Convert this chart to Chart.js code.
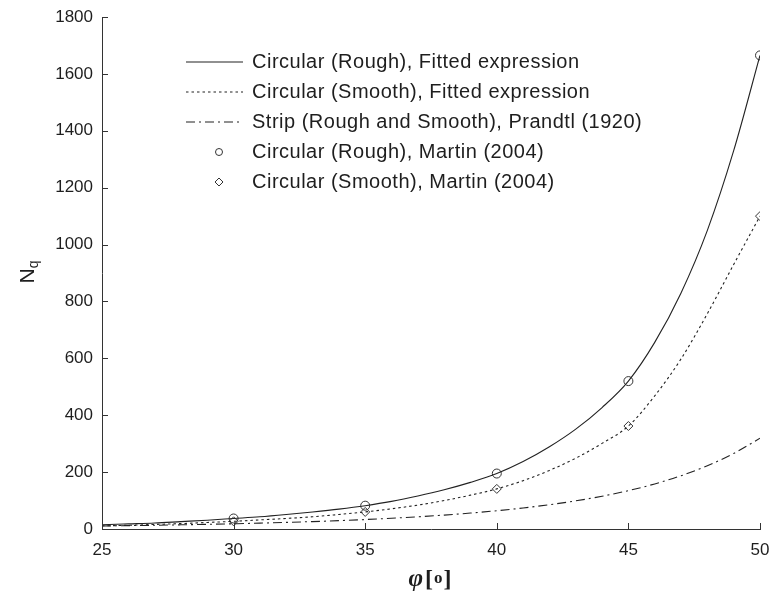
<!DOCTYPE html>
<html><head><meta charset="utf-8">
<script src="https://cdn.jsdelivr.net/npm/chart.js@4/dist/chart.umd.min.js"></script>
<style>html,body{margin:0;padding:0;background:#fff}#wrap{width:769px;height:594px}</style>
</head><body><div id="wrap"><canvas id="c" width="769" height="594"></canvas></div>
<script>
// friction angle (degrees) for fitted curves
const phi = [25,26,27,28,29,30,31,32,33,34,35,36,37,38,39,40,41,42,43,44,45,46,47,48,49,50];
// Circular (Rough), Fitted expression
const roughFit = [15,18,21,26,31,37,43,51,60,70,82,97,116,138,164,195,237,289,351,427,520,656,830,1050,1330,1665];
// Circular (Smooth), Fitted expression
const smoothFit = [11,13,16,19,23,27,32,37,43,51,60,71,84,100,119,141,170,206,249,301,362,468,598,757,930,1100];
// Strip (Rough and Smooth), Prandtl (1920)
const prandtl = [10.7,11.9,13.2,14.7,16.4,18.4,20.6,23.2,26.1,29.4,33.3,37.8,42.9,48.9,56.0,64.2,73.9,85.4,99.0,115.3,134.9,158.5,187.2,222.3,265.5,319.1];
// Martin (2004) points
const martinPhi = [30,35,40,45,50];
const martinRough = [37,82,195,520,1665];
const martinSmooth = [27,60,141,362,1100];
// axis ticks
const xTicks = [25,30,35,40,45,50];
const yTicks = [0,200,400,600,800,1000,1200,1400,1600,1800];
const seriesLabels = [
  'Circular (Rough), Fitted expression',
  'Circular (Smooth), Fitted expression',
  'Strip (Rough and Smooth), Prandtl (1920)',
  'Circular (Rough), Martin (2004)',
  'Circular (Smooth), Martin (2004)'
];

const pts = (xs, ys) => xs.map((x, i) => ({x: x, y: ys[i]}));
const INK = '#1e1e1e';
const FONT = '"Liberation Sans", Arial, sans-serif';

const decor = {
  id: 'decor',
  afterDraw(chart) {
    const ctx = chart.ctx;
    const xs = chart.scales.x, ys = chart.scales.y;
    const ca = chart.chartArea;
    ctx.save();
    // inward tick marks
    ctx.strokeStyle = '#333'; ctx.lineWidth = 1;
    ctx.beginPath();
    xTicks.forEach(v => { const px = Math.round(xs.getPixelForValue(v)) + 0.5; ctx.moveTo(px, ca.bottom); ctx.lineTo(px, ca.bottom - 6); });
    yTicks.forEach(v => { const py = Math.round(ys.getPixelForValue(v)) + 0.5; ctx.moveTo(ca.left, py); ctx.lineTo(ca.left + 6, py); });
    ctx.stroke();
    // legend
    const ds = chart.data.datasets;
    ctx.save();
    ctx.font = '20px ' + FONT; ctx.fillStyle = INK; ctx.textBaseline = 'middle'; ctx.textAlign = 'left';
    try { ctx.letterSpacing = '0.5px'; } catch (e) {}
    ds.forEach((d, i) => {
      const y = 62 + i * 30;
      if (d.showLine !== false) {
        ctx.save();
        ctx.strokeStyle = d.borderColor; ctx.lineWidth = d.borderWidth;
        ctx.setLineDash(d.borderDash || []);
        ctx.beginPath(); ctx.moveTo(186, y); ctx.lineTo(243, y); ctx.stroke();
        ctx.restore();
      } else {
        ctx.save(); ctx.strokeStyle = d.pointBorderColor; ctx.lineWidth = 1;
        ctx.beginPath();
        if (d.pointStyle === 'circle') { ctx.arc(219, y, 3.5, 0, Math.PI * 2); }
        else { ctx.moveTo(219, y - 4); ctx.lineTo(223, y); ctx.lineTo(219, y + 4); ctx.lineTo(215, y); ctx.closePath(); }
        ctx.stroke(); ctx.restore();
      }
      ctx.fillStyle = INK;
      ctx.fillText(d.label, 252, y);
    });
    ctx.restore();
    // y axis title N_q
    ctx.save();
    ctx.translate(26, 272);
    ctx.rotate(-Math.PI / 2);
    ctx.textBaseline = 'alphabetic'; ctx.textAlign = 'left'; ctx.fillStyle = INK;
    ctx.font = '21px ' + FONT;
    const wN = ctx.measureText('N').width;
    ctx.font = '14px ' + FONT;
    const wq = ctx.measureText('q').width;
    const start = -(wN + wq) / 2;
    ctx.font = '21px ' + FONT; ctx.fillText('N', start, 8);
    ctx.font = '14px ' + FONT; ctx.fillText('q', start + wN, 12);
    ctx.restore();
    // x axis title φ[o]
    ctx.save();
    ctx.textBaseline = 'alphabetic'; ctx.textAlign = 'left'; ctx.fillStyle = INK;
    const f1 = 'italic bold 25px "Liberation Serif", "DejaVu Serif", serif';
    const f2 = 'bold 24px "Liberation Serif", "DejaVu Serif", serif';
    const f3 = 'bold 17px "Liberation Serif", "DejaVu Serif", serif';
    ctx.font = f1; const w1 = ctx.measureText('φ').width;
    ctx.font = f2; const wb = ctx.measureText('[').width;
    ctx.font = f3; const wo = ctx.measureText('o').width;
    const total = w1 + 2 + wb * 2 + wo + 2;
    const cx = xs.getPixelForValue(37.5) - 1;
    let sx = cx - total / 2;
    ctx.font = f1; ctx.fillText('φ', sx, 586); sx += w1 + 2;
    ctx.font = f2; ctx.fillText('[', sx, 586); sx += wb + 1;
    ctx.font = f3; ctx.fillText('o', sx, 583); sx += wo + 1;
    ctx.font = f2; ctx.fillText(']', sx, 586);
    ctx.restore();
    ctx.restore();
  }
};

const lineDs = (label, ys, dash) => ({
  label: label, data: pts(phi, ys), showLine: true, borderColor: '#222', borderWidth: 1.1,
  borderDash: dash, pointRadius: 0, pointHoverRadius: 0, fill: false, cubicInterpolationMode: 'monotone'
});
const markDs = (label, ys, style) => ({
  label: label, data: pts(martinPhi, ys), showLine: false, pointStyle: style, pointRadius: 4.5,
  pointBorderColor: '#333', pointBackgroundColor: 'rgba(255,255,255,0)', pointBorderWidth: 1, borderColor: '#333', backgroundColor: 'rgba(0,0,0,0)'
});

new Chart(document.getElementById('c'), {
  type: 'line',
  data: {
    datasets: [
      lineDs(seriesLabels[0], roughFit, []),
      lineDs(seriesLabels[1], smoothFit, [2.5, 3]),
      lineDs(seriesLabels[2], prandtl, [9, 4, 2, 4]),
      markDs(seriesLabels[3], martinRough, 'circle'),
      markDs(seriesLabels[4], martinSmooth, 'rectRot')
    ]
  },
  options: {
    responsive: false, animation: false, devicePixelRatio: 1,
    layout: {padding: {left: 0, top: 17, right: 9, bottom: 0}},
    plugins: {legend: {display: false}, tooltip: {enabled: false}, title: {display: false}},
    scales: {
      x: {
        type: 'linear', min: 25, max: 50,
        afterBuildTicks: s => { s.ticks = xTicks.map(v => ({value: v})); },
        afterFit: s => { s.height = 65; s.paddingLeft = 0; s.paddingRight = 0; },
        grid: {display: false, drawTicks: false},
        border: {display: true, color: '#333', width: 1},
        ticks: {color: INK, font: {family: FONT, size: 17}, padding: 11, maxRotation: 0, autoSkip: false,
                callback: v => String(v)}
      },
      y: {
        type: 'linear', min: 0, max: 1800,
        afterBuildTicks: s => { s.ticks = yTicks.map(v => ({value: v})); },
        afterFit: s => { s.width = 102; s.paddingTop = 0; s.paddingBottom = 0; },
        grid: {display: false, drawTicks: false},
        border: {display: true, color: '#333', width: 1},
        ticks: {color: INK, font: {family: FONT, size: 17}, padding: 9, callback: v => String(v)}
      }
    }
  },
  plugins: [decor]
});
</script>
</body></html>
